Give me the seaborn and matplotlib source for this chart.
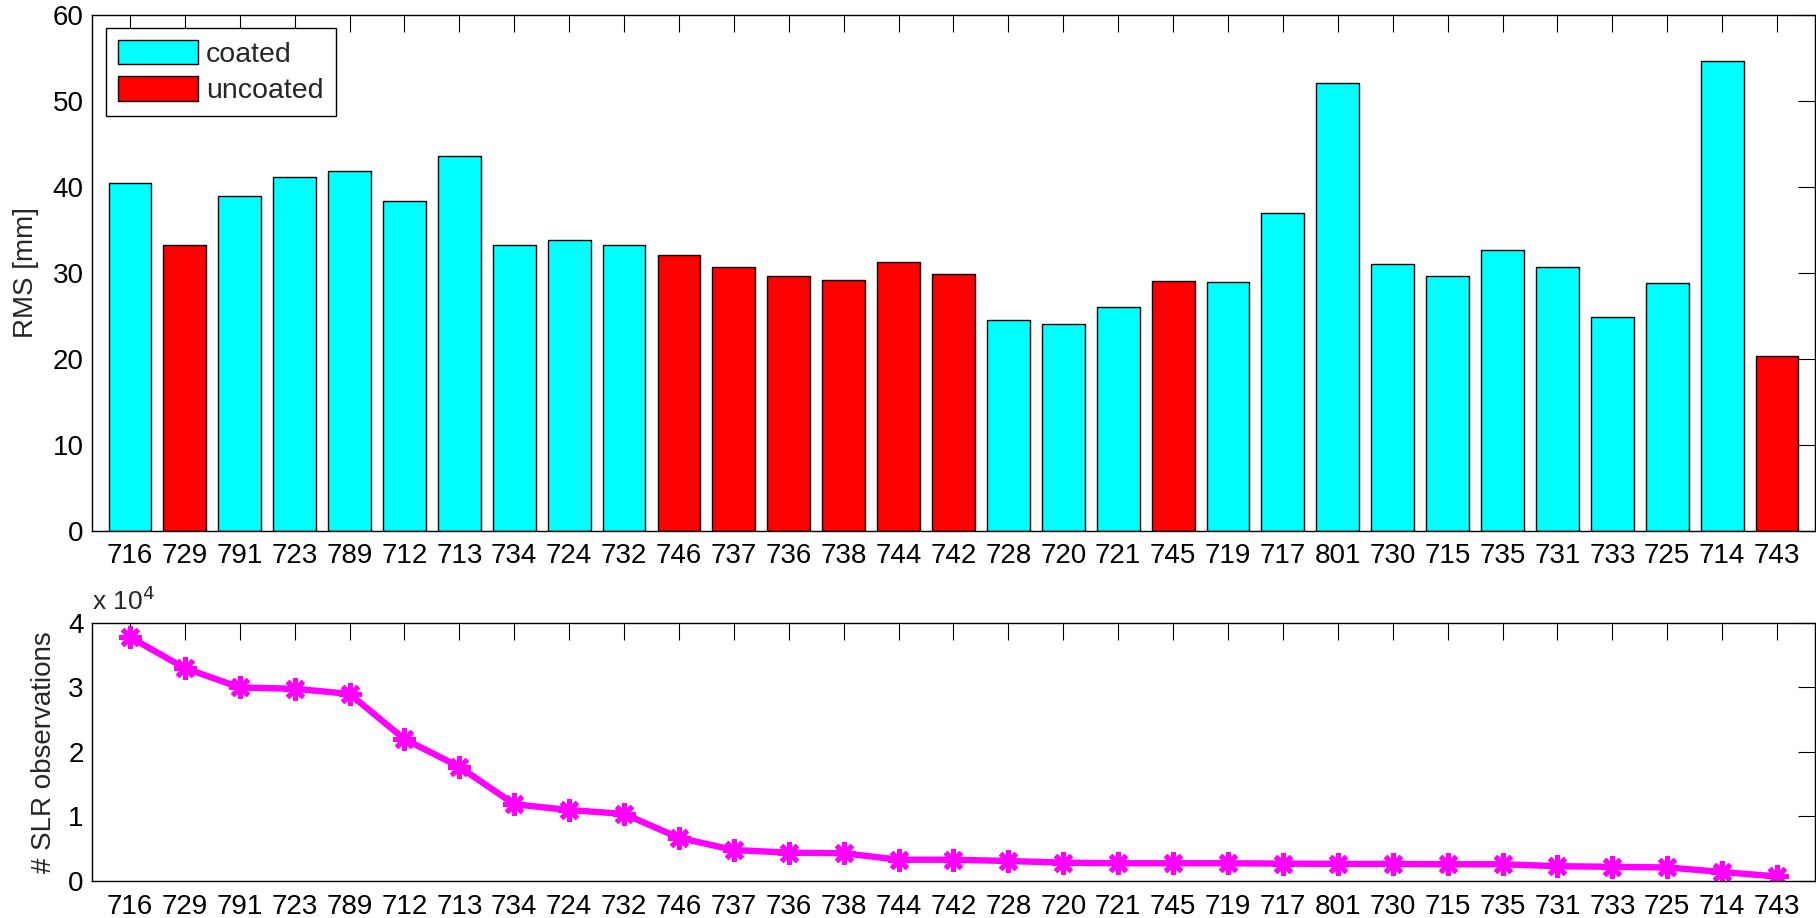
import numpy as np
import pandas as pd
import matplotlib
matplotlib.use("Agg")
import matplotlib.pyplot as plt
from matplotlib.ticker import FuncFormatter
import seaborn as sns

# Stations (ILRS IDs) ordered by number of SLR observations
stations = ["716", "729", "791", "723", "789", "712", "713", "734", "724", "732",
            "746", "737", "736", "738", "744", "742", "728", "720", "721", "745",
            "719", "717", "801", "730", "715", "735", "731", "733", "725", "714", "743"]
coating = ["coated", "uncoated", "coated", "coated", "coated", "coated", "coated",
           "coated", "coated", "coated", "uncoated", "uncoated", "uncoated",
           "uncoated", "uncoated", "uncoated", "coated", "coated", "coated",
           "uncoated", "coated", "coated", "coated", "coated", "coated", "coated",
           "coated", "coated", "coated", "coated", "uncoated"]
rms_mm = [40.5, 33.3, 38.9, 41.2, 41.9, 38.4, 43.6, 33.25, 33.8, 33.2,
          32.1, 30.7, 29.7, 29.2, 31.3, 29.9, 24.55, 24.1, 26.1, 29.1,
          29.0, 37.0, 52.1, 31.0, 29.6, 32.7, 30.7, 24.9, 28.8, 54.7, 20.4]
n_obs = [37800, 33000, 30000, 29800, 29000, 22000, 17700, 11900, 11000, 10400,
         6700, 4800, 4400, 4300, 3300, 3300, 3100, 2850, 2750, 2750,
         2750, 2700, 2650, 2650, 2600, 2600, 2300, 2200, 2100, 1400, 700]

palette = {"coated": "#00FFFF", "uncoated": "#FF0000"}

sns.set_style("white")
plt.rcParams["font.family"] = ["Liberation Sans", "DejaVu Sans"]
FS = 20

fig = plt.figure(figsize=(18.16, 9.18), dpi=100)
ax1 = fig.add_axes([0.0507, 0.4216, 0.9487, 0.5621])
ax2 = fig.add_axes([0.0507, 0.0403, 0.9487, 0.2811])

df = pd.DataFrame({"station": stations, "rms": rms_mm, "coating": coating,
                   "obs": n_obs, "pos": np.arange(len(stations))})

# RMS bars
sns.barplot(data=df, x="station", y="rms", hue="coating", order=stations,
            hue_order=["coated", "uncoated"], palette=palette, dodge=False,
            width=0.78, saturation=1, edgecolor="black", linewidth=1.0, ax=ax1)

# Observation counts
sns.lineplot(data=df, x="pos", y="obs", color="#FF00FF", linewidth=4.6,
             marker=(8, 2, 0), markersize=16, markeredgewidth=3.6,
             markeredgecolor="#FF00FF", markerfacecolor="#FF00FF", ax=ax2)

xlo, xhi = -0.69, len(stations) - 1 + 0.69
for ax in (ax1, ax2):
    ax.set_xlim(xlo, xhi)
    ax.set_xticks(np.arange(len(stations)))
    ax.set_xticklabels(stations)
    ax.set_xlabel("")
    ax.tick_params(axis="both", which="both", direction="in", length=12.5,
                   width=0.8, top=True, right=True, labelsize=FS, colors="black")
    ax.tick_params(axis="x", pad=9)
    ax.tick_params(axis="y", pad=6)
    for s in ax.spines.values():
        s.set_visible(True)
        s.set_color("black")
        s.set_linewidth(1.0)

ax1.set_ylim(0, 60)
ax1.set_yticks(np.arange(0, 61, 10))
ax1.set_ylabel("RMS [mm]", fontsize=FS, labelpad=10)

ax2.set_ylim(0, 40000)
ax2.set_yticks(np.arange(0, 40001, 10000))
ax2.yaxis.set_major_formatter(FuncFormatter(lambda v, p: f"{v / 1e4:g}"))
ax2.set_ylabel("# SLR observations", fontsize=FS, labelpad=8)
ax2.text(0.0, 1.03, r"x 10$^4$", transform=ax2.transAxes, fontsize=FS - 1,
         ha="left", va="bottom")

handles, labels = ax1.get_legend_handles_labels()
leg = ax1.legend(handles, labels, loc="upper left", bbox_to_anchor=(0.0081, 0.975),
                 borderaxespad=0, fontsize=FS + 0.5, frameon=True, fancybox=False,
                 framealpha=1, edgecolor="black", handlelength=2.8,
                 handleheight=0.95, handletextpad=0.3, labelspacing=0.3,
                 borderpad=0.42)
leg.get_frame().set_linewidth(1.0)

fig.savefig("out.png", dpi=100)
